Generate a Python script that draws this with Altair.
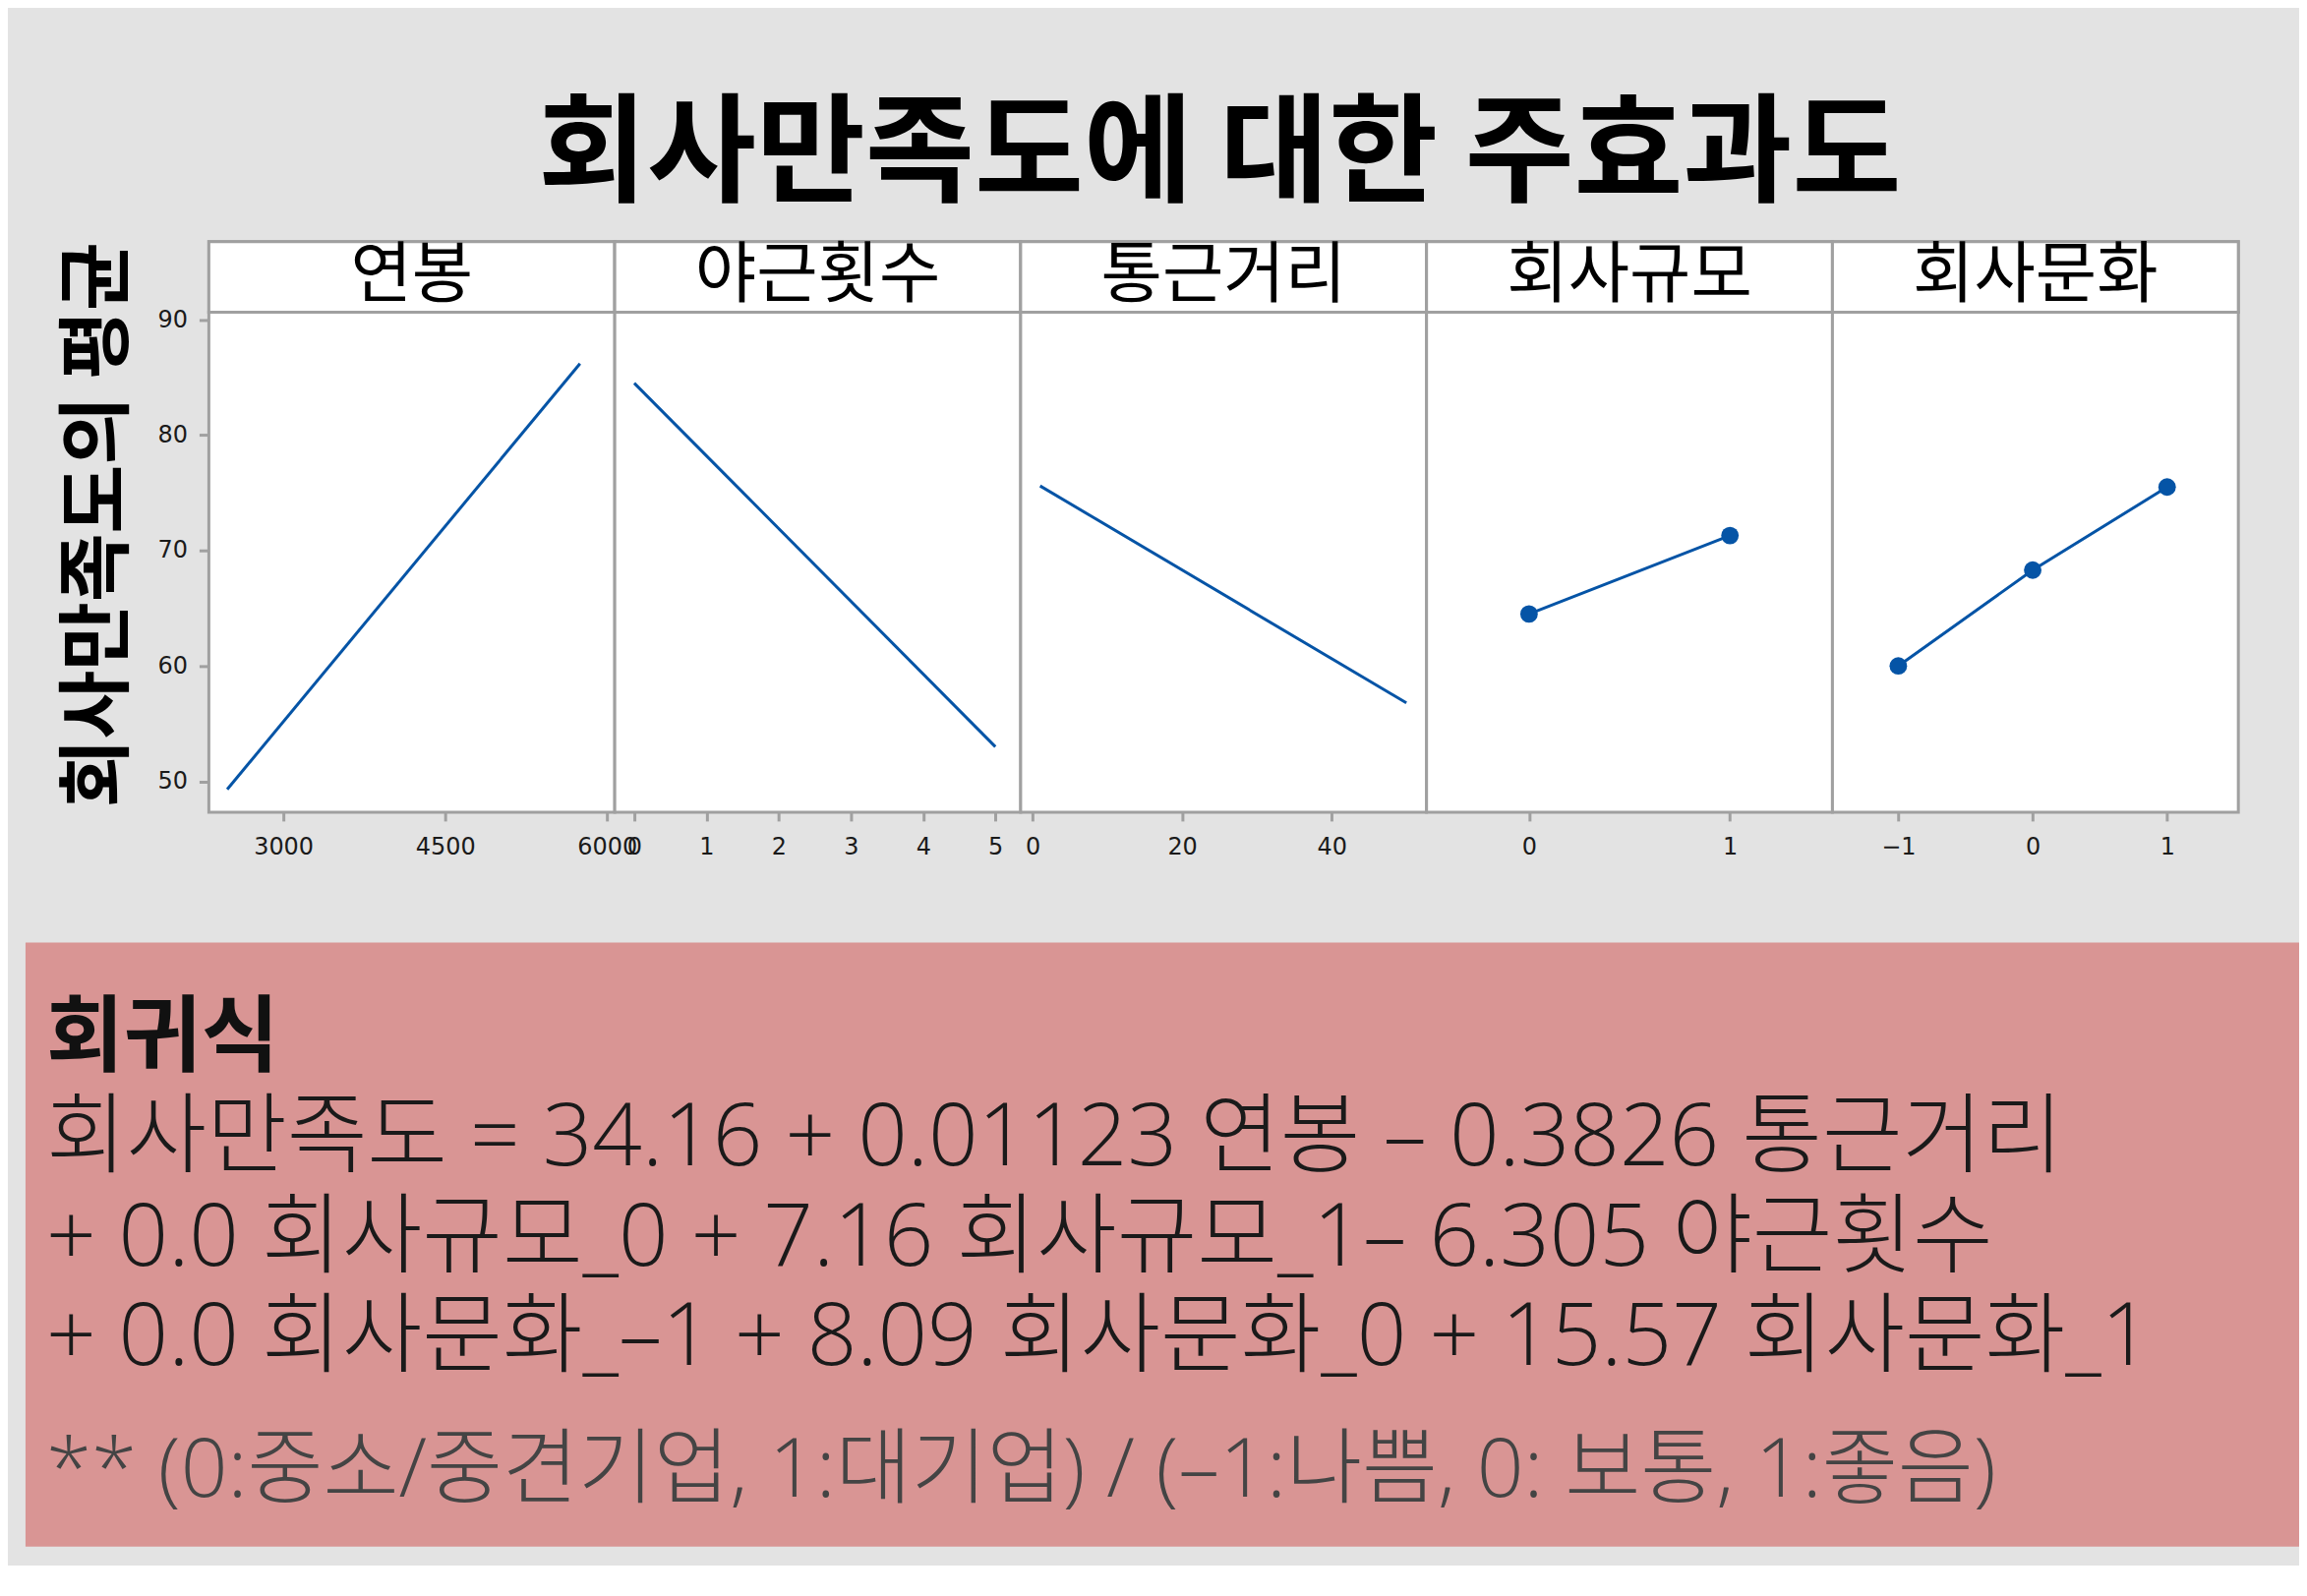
import altair as alt
import pandas as pd

KFONT = "Noto Sans CJK KR"
TEXTFONT = "Open Sans, Noto Sans CJK KR"
NUMFONT = "DejaVu Sans"
BG = "#e3e3e3"
PINK = "#d99594"
FRAME = "#a0a0a0"
BLUE = "#0554a6"

TITLE = "회사만족도에 대한 주효과도"
Y_TITLE = "회사만족도의 평균"
FACTORS = ["연봉", "야근횟수", "통근거리", "회사규모", "회사문화"]

# main-effect means
salary_x = [2480, 5750]
salary_y = [49.3, 86.2]
overtime_x = [0, 5]
overtime_y = [84.5, 53.0]
commute_x = [1, 50]
commute_y = [75.6, 56.8]
size_x = [0, 1]
size_y = [64.5, 71.3]
culture_x = [-1, 0, 1]
culture_y = [60.0, 68.3, 75.5]

salary_ticks = [3000, 4500, 6000]
overtime_ticks = [0, 1, 2, 3, 4, 5]
commute_ticks = [0, 20, 40]
size_ticks = [0, 1]
culture_ticks = [-1, 0, 1]
y_ticks = [50, 60, 70, 80, 90]

salary_domain = [2310, 6072]
overtime_domain = [-0.27, 5.35]
commute_domain = [-1.6, 52.7]
size_domain = [-0.51, 1.51]
culture_domain = [-1.49, 1.53]
y_domain = [47.33, 90.65]

HEADING = "회귀식"
EQ_LINES = [
    "회사만족도 = 34.16 + 0.01123 연봉 – 0.3826 통근거리",
    "+ 0.0 회사규모_0 + 7.16 회사규모_1– 6.305 야근횟수",
    "+ 0.0 회사문화_–1 + 8.09 회사문화_0 + 15.57 회사문화_1",
]
NOTE = "** (0:중소/중견기업, 1:대기업) / (–1:나쁨, 0: 보통, 1:좋음)"

PANEL_W = 414
PANEL_H = 510
HEADER_H = 72
SPACER_W = 187
CLEAR = alt.ViewBackground(fill="transparent", stroke="transparent")


def panel(xs, ys, domain, ticks, with_points, first):
    df = pd.DataFrame({"x": xs, "y": ys})
    x = alt.X(
        "x:Q",
        scale=alt.Scale(domain=domain, nice=False, zero=False),
        axis=alt.Axis(
            values=ticks, format="d", title=None, grid=False, domain=False,
            tickSize=9, tickWidth=3, tickColor=FRAME,
            labelFont=NUMFONT, labelFontSize=24, labelColor="#1a1a1a",
            labelPadding=15, labelFlush=False, labelOverlap=False,
        ),
    )
    if first:
        yaxis = alt.Axis(
            values=y_ticks, format="d", grid=False, domain=False, title=None,
            tickSize=10, tickWidth=3, tickColor=FRAME,
            labelFont=NUMFONT, labelFontSize=24, labelColor="#1a1a1a",
            labelPadding=12, labelFlush=False, labelOverlap=False,
        )
        y = alt.Y("y:Q", scale=alt.Scale(domain=y_domain, nice=False, zero=False), axis=yaxis)
    else:
        y = alt.Y("y:Q", scale=alt.Scale(domain=y_domain, nice=False, zero=False), axis=None)
    base = alt.Chart(df).encode(x=x, y=y)
    layers = [base.mark_line(color=BLUE, strokeWidth=3)]
    if with_points:
        layers.append(base.mark_circle(color=BLUE, size=320, opacity=1))
    return alt.layer(*layers).properties(width=PANEL_W, height=PANEL_H)


def header(name):
    df = pd.DataFrame({"name": [name]})
    x = alt.X("name:N", axis=None, scale=alt.Scale(paddingInner=0, paddingOuter=0))
    box = alt.Chart(df).mark_rect(fill="white", stroke=FRAME, strokeWidth=3).encode(x=x)
    label = (
        alt.Chart(df)
        .mark_text(font=KFONT, fontSize=68, color="black", baseline="alphabetic", dy=21)
        .encode(x=x, text="name:N")
    )
    return alt.layer(box, label).properties(width=PANEL_W, height=HEADER_H)


corner = (
    alt.Chart(pd.DataFrame({"v": [0]}))
    .mark_point(opacity=0)
    .properties(width=SPACER_W, height=HEADER_H, view=CLEAR)
)

y_title = (
    alt.Chart(pd.DataFrame({"t": [Y_TITLE]}))
    .mark_text(angle=270, font=KFONT, fontSize=76, fontWeight="bold", color="black",
               align="center", baseline="middle")
    .encode(text="t:N", x=alt.value(75), y=alt.value(217))
    .properties(width=SPACER_W, height=PANEL_H, view=CLEAR)
)

panels = [
    panel(salary_x, salary_y, salary_domain, salary_ticks, False, True),
    panel(overtime_x, overtime_y, overtime_domain, overtime_ticks, False, False),
    panel(commute_x, commute_y, commute_domain, commute_ticks, False, False),
    panel(size_x, size_y, size_domain, size_ticks, True, False),
    panel(culture_x, culture_y, culture_domain, culture_ticks, True, False),
]
headers = [header(n) for n in FACTORS]

grid = alt.concat(
    corner, *headers, y_title, *panels,
    columns=6, spacing=0, bounds="flush", align="each",
)

heading = (
    alt.Chart(pd.DataFrame({"t": [HEADING]}))
    .mark_text(align="left", baseline="alphabetic", font=KFONT, fontSize=86,
               fontWeight="bold", color="#111111")
    .encode(text="t:N", x=alt.value(21), y=alt.value(125))
)
equation = (
    alt.Chart(pd.DataFrame({"t": ["\n".join(EQ_LINES)]}))
    .mark_text(align="left", baseline="alphabetic", font=TEXTFONT, fontSize=89,
               fontWeight=300, lineBreak="\n", lineHeight=102, color="#1a1a1a")
    .encode(text="t:N", x=alt.value(21), y=alt.value(227))
)
note = (
    alt.Chart(pd.DataFrame({"t": [NOTE]}))
    .mark_text(align="left", baseline="alphabetic", font=TEXTFONT, fontSize=84,
               fontWeight=300, color="#444444")
    .encode(text="t:N", x=alt.value(21), y=alt.value(565))
)
pink = alt.layer(heading, equation, note).properties(
    width=2319, height=616,
    view=alt.ViewBackground(fill=PINK, stroke=PINK, strokeWidth=0),
)

chart = (
    alt.vconcat(
        grid, pink, spacing=83,
        title=alt.TitleParams(
            TITLE, font=KFONT, fontSize=121, fontWeight="bold", color="black",
            anchor="start", frame="group", align="center", dx=1218, offset=-99,
            baseline="bottom",
        ),
    )
    .properties(background=BG, padding={"left": 16, "top": 89, "right": 0, "bottom": 17})
    .configure_view(stroke=FRAME, strokeWidth=3, fill="white")
)

chart.save("out.html", embed_options={"renderer": "svg", "actions": False})
